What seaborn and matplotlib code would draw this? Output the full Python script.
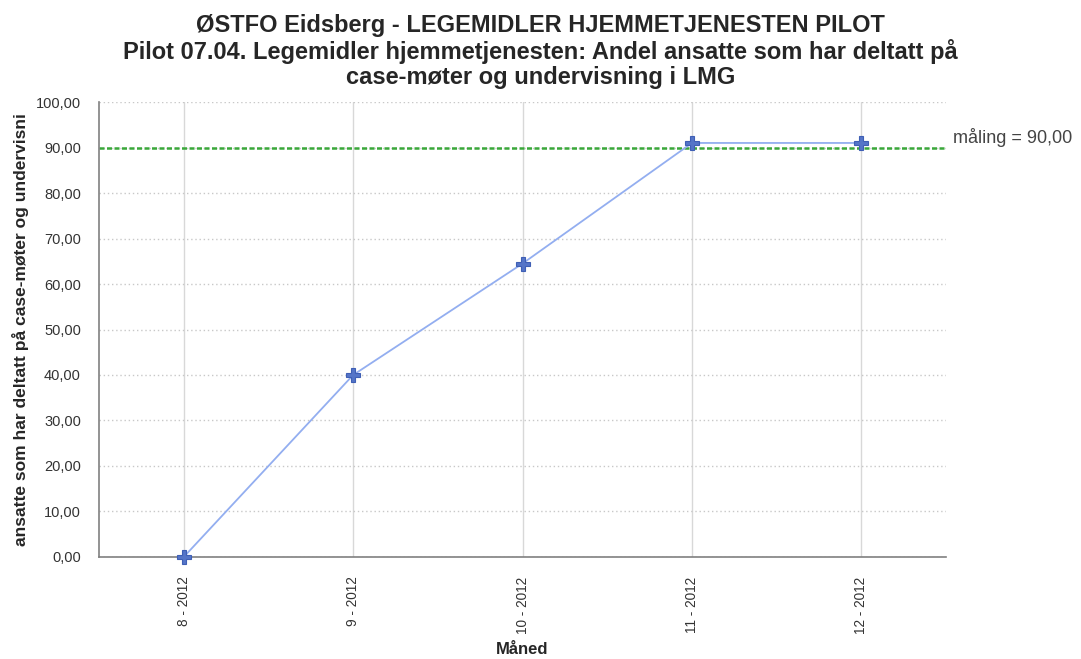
import matplotlib
matplotlib.use("Agg")
import matplotlib.pyplot as plt
import seaborn as sns
import pandas as pd
from matplotlib.ticker import FuncFormatter

# ===== Data =====
months = ["8 - 2012", "9 - 2012", "10 - 2012", "11 - 2012", "12 - 2012"]
andel = [0.0, 40.0, 64.5, 91.0, 91.0]
maling = 90.0

title = ("ØSTFO Eidsberg - LEGEMIDLER HJEMMETJENESTEN PILOT\n"
         "Pilot 07.04. Legemidler hjemmetjenesten: Andel ansatte som har deltatt på\n"
         "case-møter og undervisning i LMG")
ylabel = "ansatte som har deltatt på case-møter og undervisni"
xlabel = "Måned"

df = pd.DataFrame({"month": months, "andel": andel})

sns.set_style("white")
plt.rcParams['font.family'] = ['Liberation Sans', 'DejaVu Sans']

fig = plt.figure(figsize=(10.81, 6.59), dpi=100)
ax = fig.add_axes([0.0916, 0.1548, 0.7836, 0.6904])

ax.axhline(maling, color="#3aa83a", linestyle=(0, (2, 1)), linewidth=1.8, zorder=2)
sns.lineplot(data=df, x="month", y="andel", ax=ax, color="#93aef0", linewidth=1.3,
             marker="P", markersize=10, markerfacecolor="#5575c8",
             markeredgecolor="#3f5fb5", markeredgewidth=0.8, zorder=3, sort=False)
for ln in ax.get_lines():
    ln.set_clip_on(False)

ax.set_xlim(-0.5, len(months) - 0.5)
ax.set_ylim(0, 100)
ax.set_yticks(range(0, 101, 10))
ax.yaxis.set_major_formatter(FuncFormatter(lambda v, p: f"{v:.2f}".replace(".", ",")))

ax.yaxis.grid(True, color="#c8c8c8", linestyle=(0, (1, 2)), linewidth=1)
ax.xaxis.grid(True, color="#d8d8d8", linestyle="-", linewidth=1)
ax.set_axisbelow(True)

for s in ["top", "right"]:
    ax.spines[s].set_visible(False)
for s in ["left", "bottom"]:
    ax.spines[s].set_color("#808080")
    ax.spines[s].set_linewidth(1.2)

ax.tick_params(axis="y", labelsize=10.5, labelcolor="#333333", length=10, color="#c8c8c8", pad=3)
ax.tick_params(axis="x", labelsize=9.8, labelcolor="#333333", length=6, color="#d8d8d8", labelrotation=90, pad=8)

ax.set_ylabel(ylabel, fontsize=12.5, fontweight="bold", labelpad=5)
ax.set_xlabel(xlabel, fontsize=12, fontweight="bold", labelpad=6)

ax.text(len(months) - 0.46, maling + 2.2, "måling = 90,00", fontsize=13, color="#444444",
        va="center", ha="left")

fig.suptitle(title, fontsize=17, fontweight="bold", y=0.978, linespacing=1.08)

fig.savefig("out.png", dpi=100)
